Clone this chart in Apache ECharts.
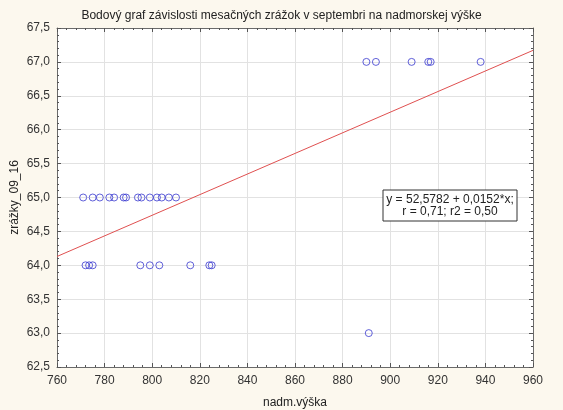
<!DOCTYPE html>
<html>
<head>
<meta charset="utf-8">
<script src="https://cdn.jsdelivr.net/npm/echarts@6/dist/echarts.min.js"></script>
<style>
  html, body { margin: 0; padding: 0; background: #fcf8ee; }
  #chart { width: 563px; height: 410px; }
</style>
</head>
<body>
<div id="chart"></div>
<script>
// Nadmorská výška (m) a mesačné zrážky v septembri
const vyska64 = [772, 773.5, 775, 795, 799, 803, 816, 824, 825];
const vyska65 = [771, 775, 778, 782, 784, 788, 789, 794, 795.5, 799, 802, 804, 807, 810];
const vyska67 = [890, 894, 909, 916, 917, 938];
const vyska63 = [891];

// Lineárna regresia: y = a + b*x
const intercept = 52.5782;
const slope = 0.0152;
const rText = 'r = 0,71; r2 = 0,50';
const xRange = [760, 960];

const points = [];
vyska63.forEach(x => points.push([x, 63]));
vyska64.forEach(x => points.push([x, 64]));
vyska65.forEach(x => points.push([x, 65]));
vyska67.forEach(x => points.push([x, 67]));

const fitLine = xRange.map(x => [x, intercept + slope * x]);

const comma = (v, d) => v.toFixed(d).replace('.', ',');
const font = 'Liberation Sans, Arial, sans-serif';
const tickCol = '#555';

const chart = echarts.init(document.getElementById('chart'));

const baseX = {
  type: 'value', min: 760, max: 960, interval: 20,
  axisLine: { show: true, onZero: false, lineStyle: { color: '#6a6a6a', width: 1 } },
  axisTick: { show: true, inside: true, length: 4, lineStyle: { color: tickCol } },
  minorTick: { show: true, splitNumber: 5, length: 2, lineStyle: { color: tickCol } }
};
const baseY = {
  type: 'value', min: 62.5, max: 67.5, interval: 0.5,
  axisLine: { show: true, onZero: false, lineStyle: { color: '#6a6a6a', width: 1 } },
  axisTick: { show: true, inside: true, length: 4, lineStyle: { color: tickCol } },
  minorTick: { show: true, splitNumber: 5, length: 2, lineStyle: { color: tickCol } }
};

chart.setOption({
  backgroundColor: '#fcf8ee',
  animation: false,
  title: {
    text: 'Bodový graf závislosti mesačných zrážok v septembri na nadmorskej výške',
    left: 'center', top: 5,
    textStyle: { fontFamily: font, fontSize: 12, fontWeight: 'normal', color: '#222' }
  },
  grid: {
    left: 57, right: 30, top: 28, bottom: 43,
    outerBoundsMode: 'none', containLabel: false,
    backgroundColor: '#ffffff', show: true, borderWidth: 0
  },
  xAxis: [
    Object.assign({}, baseX, {
      position: 'bottom',
      name: 'nadm.výška', nameLocation: 'middle', nameGap: 30,
      nameMoveOverlap: false,
      nameTextStyle: { fontFamily: font, fontSize: 12, color: '#222' },
      axisLabel: { fontFamily: font, fontSize: 12, color: '#333', margin: 8 },
      splitLine: { show: true, lineStyle: { color: '#e2e2e2', width: 1 } }
    }),
    Object.assign({}, baseX, {
      position: 'top',
      axisLabel: { show: false },
      splitLine: { show: false }
    })
  ],
  yAxis: [
    Object.assign({}, baseY, {
      position: 'left',
      name: 'zrážky_09_16', nameLocation: 'middle', nameGap: 36,
      nameMoveOverlap: false,
      nameTextStyle: { fontFamily: font, fontSize: 12, color: '#222' },
      axisLabel: { fontFamily: font, fontSize: 12, color: '#333', margin: 7,
        formatter: v => comma(v, 1) },
      splitLine: { show: true, lineStyle: { color: '#e2e2e2', width: 1 } }
    }),
    Object.assign({}, baseY, {
      position: 'right',
      axisLabel: { show: false },
      splitLine: { show: false }
    })
  ],
  series: [
    {
      type: 'line',
      data: fitLine,
      showSymbol: false,
      lineStyle: { color: '#e05050', width: 1 },
      z: 2,
      silent: true
    },
    {
      type: 'scatter',
      data: points,
      symbol: 'circle',
      symbolSize: 7,
      itemStyle: { color: 'rgba(0,0,0,0)', borderColor: '#3a3ad0', borderWidth: 1 },
      z: 3
    }
  ],
  graphic: [
    {
      type: 'rect',
      shape: { x: 383, y: 190, width: 134, height: 31 },
      style: { fill: '#ffffff', stroke: '#333', lineWidth: 1 },
      z: 10
    },
    {
      type: 'text',
      x: 450, y: 200,
      style: {
        text: 'y = ' + comma(intercept, 4) + ' + ' + comma(slope, 4) + '*x;',
        fontFamily: font, fontSize: 12, fill: '#222', align: 'center', verticalAlign: 'middle'
      },
      z: 11
    },
    {
      type: 'text',
      x: 450, y: 212,
      style: {
        text: rText,
        fontFamily: font, fontSize: 12, fill: '#222', align: 'center', verticalAlign: 'middle'
      },
      z: 11
    }
  ]
});
</script>
</body>
</html>
